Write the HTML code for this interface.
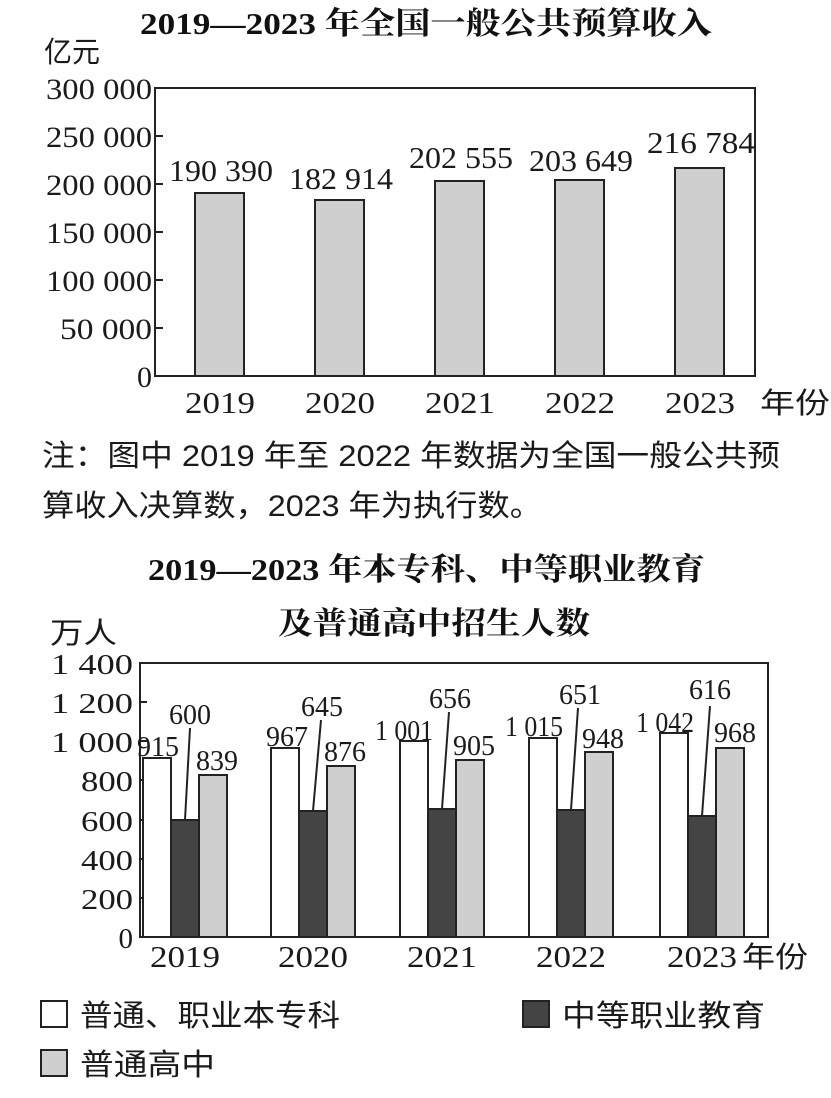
<!DOCTYPE html>
<html><head><meta charset="utf-8"><style>
body{margin:0;background:#fff;}
svg{display:block}
.n{font-family:"Liberation Serif","Noto Serif CJK SC",serif;fill:#1a1a1a}
.c{font-family:"Liberation Sans","Noto Sans CJK SC",sans-serif;fill:#1a1a1a}
.t{font-family:"Liberation Serif","Noto Serif CJK SC",serif;font-weight:bold;fill:#111}
</style></head><body>
<svg width="831" height="1098" viewBox="0 0 831 1098" xmlns="http://www.w3.org/2000/svg">
<rect width="831" height="1098" fill="#fff"/>
<!-- Chart 1 -->
<text class="t" x="140" y="34" font-size="31" textLength="572" lengthAdjust="spacingAndGlyphs">2019—2023 年全国一般公共预算收入</text>
<text class="c" x="44" y="62" font-size="29" textLength="56" lengthAdjust="spacingAndGlyphs">亿元</text>
<rect x="155" y="88" width="600" height="288" fill="none" stroke="#222" stroke-width="2"/>
<g stroke="#222" stroke-width="2">
<line x1="155" y1="136" x2="163" y2="136"/><line x1="155" y1="184" x2="163" y2="184"/>
<line x1="155" y1="232" x2="163" y2="232"/><line x1="155" y1="280" x2="163" y2="280"/>
<line x1="155" y1="328" x2="163" y2="328"/>
</g>
<g class="n" font-size="30" text-anchor="end" lengthAdjust="spacingAndGlyphs">
<text x="152" y="99" textLength="106" lengthAdjust="spacingAndGlyphs">300 000</text>
<text x="152" y="147" textLength="106" lengthAdjust="spacingAndGlyphs">250 000</text>
<text x="152" y="195" textLength="106" lengthAdjust="spacingAndGlyphs">200 000</text>
<text x="152" y="243" textLength="106" lengthAdjust="spacingAndGlyphs">150 000</text>
<text x="152" y="291" textLength="106" lengthAdjust="spacingAndGlyphs">100 000</text>
<text x="152" y="339" textLength="92" lengthAdjust="spacingAndGlyphs">50 000</text>
<text x="152" y="387">0</text>
</g>
<g fill="#cfcfcf" stroke="#222" stroke-width="2">
<rect x="195" y="193" width="49" height="183"/>
<rect x="315" y="200" width="49" height="176"/>
<rect x="435" y="181" width="49" height="195"/>
<rect x="555" y="180" width="49" height="196"/>
<rect x="675" y="168" width="49" height="208"/>
</g>
<g class="n" font-size="31" text-anchor="middle">
<text x="221" y="181" textLength="104" lengthAdjust="spacingAndGlyphs">190 390</text>
<text x="341" y="189" textLength="104" lengthAdjust="spacingAndGlyphs">182 914</text>
<text x="461" y="168" textLength="104" lengthAdjust="spacingAndGlyphs">202 555</text>
<text x="581" y="171" textLength="104" lengthAdjust="spacingAndGlyphs">203 649</text>
<text x="701" y="153" textLength="108" lengthAdjust="spacingAndGlyphs">216 784</text>
</g>
<g class="n" font-size="31" text-anchor="middle">
<text x="220" y="413" textLength="70" lengthAdjust="spacingAndGlyphs">2019</text>
<text x="340" y="413" textLength="70" lengthAdjust="spacingAndGlyphs">2020</text>
<text x="460" y="413" textLength="70" lengthAdjust="spacingAndGlyphs">2021</text>
<text x="580" y="413" textLength="70" lengthAdjust="spacingAndGlyphs">2022</text>
<text x="700" y="413" textLength="70" lengthAdjust="spacingAndGlyphs">2023</text>
</g>
<text class="c" x="760" y="413" font-size="29" textLength="70" lengthAdjust="spacingAndGlyphs">年份</text>
<text class="c" x="42" y="466" font-size="30" textLength="738" lengthAdjust="spacingAndGlyphs">注：图中 2019 年至 2022 年数据为全国一般公共预</text>
<text class="c" x="42" y="516" font-size="30" textLength="500" lengthAdjust="spacingAndGlyphs">算收入决算数，2023 年为执行数。</text>
<!-- Chart 2 -->
<text class="t" x="148" y="580" font-size="31" textLength="557" lengthAdjust="spacingAndGlyphs">2019—2023 年本专科、中等职业教育</text>
<text class="t" x="278" y="634" font-size="31" textLength="312" lengthAdjust="spacingAndGlyphs">及普通高中招生人数</text>
<text class="c" x="50" y="643" font-size="29" textLength="67" lengthAdjust="spacingAndGlyphs">万人</text>
<rect x="140" y="663" width="628" height="274" fill="none" stroke="#222" stroke-width="2"/>
<g stroke="#222" stroke-width="2">
<line x1="140" y1="702" x2="147" y2="702"/><line x1="140" y1="741" x2="147" y2="741"/>
<line x1="140" y1="780" x2="147" y2="780"/><line x1="140" y1="820" x2="147" y2="820"/>
<line x1="140" y1="859" x2="147" y2="859"/><line x1="140" y1="898" x2="147" y2="898"/>
</g>
<g class="n" font-size="29" text-anchor="end">
<text x="133" y="674" textLength="82" lengthAdjust="spacingAndGlyphs">1 400</text>
<text x="133" y="713" textLength="82" lengthAdjust="spacingAndGlyphs">1 200</text>
<text x="133" y="752" textLength="82" lengthAdjust="spacingAndGlyphs">1 000</text>
<text x="133" y="791" textLength="52" lengthAdjust="spacingAndGlyphs">800</text>
<text x="133" y="831" textLength="52" lengthAdjust="spacingAndGlyphs">600</text>
<text x="133" y="870" textLength="52" lengthAdjust="spacingAndGlyphs">400</text>
<text x="133" y="909" textLength="52" lengthAdjust="spacingAndGlyphs">200</text>
<text x="133" y="948">0</text>
</g>
<g stroke="#222" stroke-width="2">
<rect x="143" y="758" width="28" height="179" fill="#fff"/>
<rect x="171" y="820" width="28" height="117" fill="#444"/>
<rect x="199" y="775" width="28" height="162" fill="#cfcfcf"/>
<line x1="190" y1="728" x2="185" y2="820"/>
<rect x="271" y="748" width="28" height="189" fill="#fff"/>
<rect x="299" y="811" width="28" height="126" fill="#444"/>
<rect x="327" y="766" width="28" height="171" fill="#cfcfcf"/>
<line x1="321" y1="720" x2="313" y2="811"/>
<rect x="400" y="741" width="28" height="196" fill="#fff"/>
<rect x="428" y="809" width="28" height="128" fill="#444"/>
<rect x="456" y="760" width="28" height="177" fill="#cfcfcf"/>
<line x1="449" y1="712" x2="442" y2="809"/>
<rect x="529" y="738" width="28" height="199" fill="#fff"/>
<rect x="557" y="810" width="28" height="127" fill="#444"/>
<rect x="585" y="752" width="28" height="185" fill="#cfcfcf"/>
<line x1="578" y1="708" x2="571" y2="810"/>
<rect x="660" y="733" width="28" height="204" fill="#fff"/>
<rect x="688" y="816" width="28" height="121" fill="#444"/>
<rect x="716" y="748" width="28" height="189" fill="#cfcfcf"/>
<line x1="710" y1="706" x2="702" y2="816"/>
</g>
<g class="n" font-size="28" text-anchor="middle">
<text x="158" y="756" textLength="42" lengthAdjust="spacingAndGlyphs">915</text>
<text x="190" y="724" textLength="42" lengthAdjust="spacingAndGlyphs">600</text>
<text x="217" y="770" textLength="42" lengthAdjust="spacingAndGlyphs">839</text>
<text x="287" y="746" textLength="42" lengthAdjust="spacingAndGlyphs">967</text>
<text x="322" y="716" textLength="42" lengthAdjust="spacingAndGlyphs">645</text>
<text x="345" y="761" textLength="42" lengthAdjust="spacingAndGlyphs">876</text>
<text x="404" y="740" textLength="58" lengthAdjust="spacingAndGlyphs">1 001</text>
<text x="450" y="708" textLength="42" lengthAdjust="spacingAndGlyphs">656</text>
<text x="474" y="755" textLength="42" lengthAdjust="spacingAndGlyphs">905</text>
<text x="534" y="736" textLength="58" lengthAdjust="spacingAndGlyphs">1 015</text>
<text x="580" y="704" textLength="42" lengthAdjust="spacingAndGlyphs">651</text>
<text x="603" y="748" textLength="42" lengthAdjust="spacingAndGlyphs">948</text>
<text x="665" y="732" textLength="58" lengthAdjust="spacingAndGlyphs">1 042</text>
<text x="710" y="699" textLength="42" lengthAdjust="spacingAndGlyphs">616</text>
<text x="735" y="742" textLength="42" lengthAdjust="spacingAndGlyphs">968</text>
</g>
<g class="n" font-size="31" text-anchor="middle">
<text x="185" y="967" textLength="70" lengthAdjust="spacingAndGlyphs">2019</text>
<text x="313" y="967" textLength="70" lengthAdjust="spacingAndGlyphs">2020</text>
<text x="442" y="967" textLength="70" lengthAdjust="spacingAndGlyphs">2021</text>
<text x="571" y="967" textLength="70" lengthAdjust="spacingAndGlyphs">2022</text>
<text x="702" y="967" textLength="70" lengthAdjust="spacingAndGlyphs">2023</text>
</g>
<text class="c" x="742" y="967" font-size="29" textLength="66" lengthAdjust="spacingAndGlyphs">年份</text>
<g stroke="#222" stroke-width="2">
<rect x="41" y="1001" width="26" height="26" fill="#fff"/>
<rect x="523" y="1001" width="26" height="26" fill="#444"/>
<rect x="41" y="1050" width="26" height="26" fill="#cfcfcf"/>
</g>
<g class="c" font-size="30">
<text x="80" y="1026" textLength="260" lengthAdjust="spacingAndGlyphs">普通、职业本专科</text>
<text x="562" y="1026" textLength="203" lengthAdjust="spacingAndGlyphs">中等职业教育</text>
<text x="80" y="1075" textLength="135" lengthAdjust="spacingAndGlyphs">普通高中</text>
</g>
</svg>
</body></html>
